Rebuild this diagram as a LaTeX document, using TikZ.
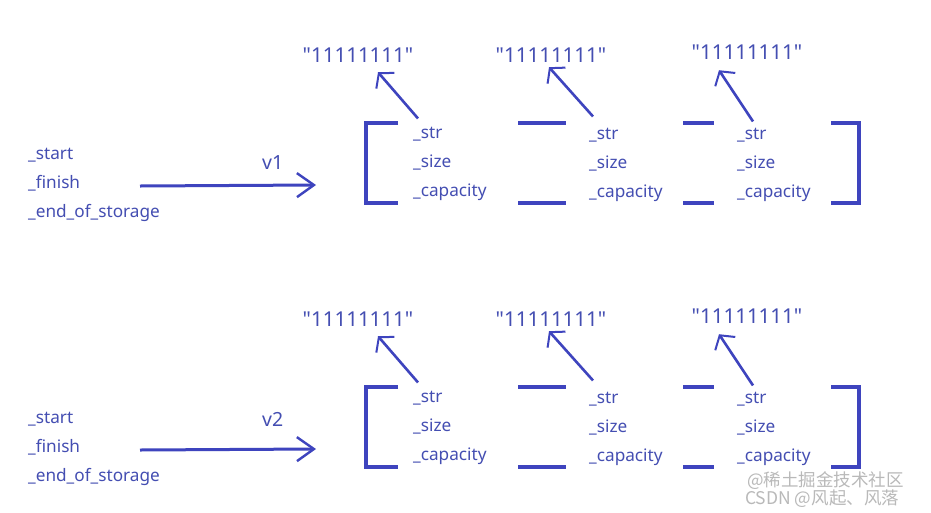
\documentclass[tikz,border=0pt]{standalone}
\usepackage{fontspec}
\setmainfont{Noto Sans}
\newfontfamily\cjkfont{Noto Sans CJK SC}
\usetikzlibrary{arrows.meta,calc}
\definecolor{clrLine}{RGB}{62,68,190}
\definecolor{clrText}{RGB}{68,78,178}
\newcommand{\strlit}{\textquotedbl 11111111\textquotedbl}
\tikzset{
  field/.style={anchor=base west,inner sep=0pt,text=clrText,font=\fontsize{17.2}{19}\selectfont},
  strval/.style={anchor=base,inner sep=0pt,text=clrText,font=\fontsize{20.5}{22}\selectfont},
  vname/.style={anchor=base west,inner sep=0pt,text=clrText,font=\fontsize{19.5}{21}\selectfont},
  bracket/.style={draw=clrLine,line width=3.2pt},
  varrow/.style={-{Straight Barb[length=17pt,width=24pt,line width=2.4pt]},draw=clrLine,line width=3pt},
  ptr/.style={-{Straight Barb[length=10pt,width=24pt,line width=2pt]},draw=clrLine,line width=2.6pt},
  wmark/.style={anchor=base west,inner sep=0pt,text=gray!55,font=\cjkfont\fontsize{17.5}{19}\selectfont}
}

\begin{document}
\begin{tikzpicture}[x=1pt,y=-1pt]
  \useasboundingbox[fill=white] (0,0) rectangle (931,512);

  % ---- vector v1 ----
  \node[field] (start1)  at (28,159) {\_start};
  \node[field] (finish1) at (28,188) {\_finish};
  \node[field] (eos1)    at (28,217) {\_end\_of\_storage};
  \node[vname] (v1)      at (262,169) {v1};

  \node[field] (str1a)  at (413,138) {\_str};
  \node[field] (size1a) at (413,167) {\_size};
  \node[field] (cap1a)  at (413,196) {\_capacity};
  \node[field] (str1b)  at (589,139) {\_str};
  \node[field] (size1b) at (589,168) {\_size};
  \node[field] (cap1b)  at (589,197) {\_capacity};
  \node[field] (str1c)  at (737,139) {\_str};
  \node[field] (size1c) at (737,168) {\_size};
  \node[field] (cap1c)  at (737,197) {\_capacity};

  \node[strval] (val1a) at (358,62) {\strlit};
  \node[strval] (val1b) at (551,62) {\strlit};
  \node[strval] (val1c) at (747,59) {\strlit};

  \coordinate (tail1) at (140,186);
  \coordinate (head1) at (316,185);
  \draw[varrow] (tail1) -- (head1);

  \draw[bracket] (398,123) -- (366,123) -- (366,203) -- (398,203);
  \draw[bracket] (518,123) -- (566,123);
  \draw[bracket] (518,203) -- (566,203);
  \draw[bracket] (683,123) -- (714,123);
  \draw[bracket] (683,203) -- (714,203);
  \draw[bracket] (831,123) -- (859,123) -- (859,203) -- (831,203);

  \draw[ptr] ([xshift=5pt,yshift=8pt]str1a.north west) -- ([xshift=20pt,yshift=-10pt]val1a.south);
  \draw[ptr] ([xshift=4pt,yshift=11pt]str1b.north west) -- ([xshift=-2pt,yshift=-5pt]val1b.south);
  \draw[ptr] ([xshift=16pt,yshift=6pt]str1c.north west) -- ([xshift=-28pt,yshift=-11pt]val1c.south);

  % ---- vector v2 ----
  \node[field] (start2)  at (28,423) {\_start};
  \node[field] (finish2) at (28,452) {\_finish};
  \node[field] (eos2)    at (28,481) {\_end\_of\_storage};
  \node[vname] (v2)      at (262,426) {v2};

  \node[field] (str2a)  at (413,402) {\_str};
  \node[field] (size2a) at (413,431) {\_size};
  \node[field] (cap2a)  at (413,460) {\_capacity};
  \node[field] (str2b)  at (589,403) {\_str};
  \node[field] (size2b) at (589,432) {\_size};
  \node[field] (cap2b)  at (589,461) {\_capacity};
  \node[field] (str2c)  at (737,403) {\_str};
  \node[field] (size2c) at (737,432) {\_size};
  \node[field] (cap2c)  at (737,461) {\_capacity};

  \node[strval] (val2a) at (358,326) {\strlit};
  \node[strval] (val2b) at (551,326) {\strlit};
  \node[strval] (val2c) at (747,323) {\strlit};

  \coordinate (tail2) at (140,450);
  \coordinate (head2) at (316,449);
  \draw[varrow] (tail2) -- (head2);

  \draw[bracket] (398,387) -- (366,387) -- (366,467) -- (398,467);
  \draw[bracket] (518,387) -- (566,387);
  \draw[bracket] (518,467) -- (566,467);
  \draw[bracket] (683,387) -- (714,387);
  \draw[bracket] (683,467) -- (714,467);
  \draw[bracket] (831,387) -- (859,387) -- (859,467) -- (831,467);

  \draw[ptr] ([xshift=5pt,yshift=8pt]str2a.north west) -- ([xshift=20pt,yshift=-10pt]val2a.south);
  \draw[ptr] ([xshift=4pt,yshift=11pt]str2b.north west) -- ([xshift=-2pt,yshift=-5pt]val2b.south);
  \draw[ptr] ([xshift=16pt,yshift=6pt]str2c.north west) -- ([xshift=-28pt,yshift=-11pt]val2c.south);

  % watermark
  \node[wmark] (wm1) at (747,486) {@稀土掘金技术社区};
  \node[wmark] (wm2) at (745,504) {CSDN @风起、风落};
\end{tikzpicture}
\end{document}
